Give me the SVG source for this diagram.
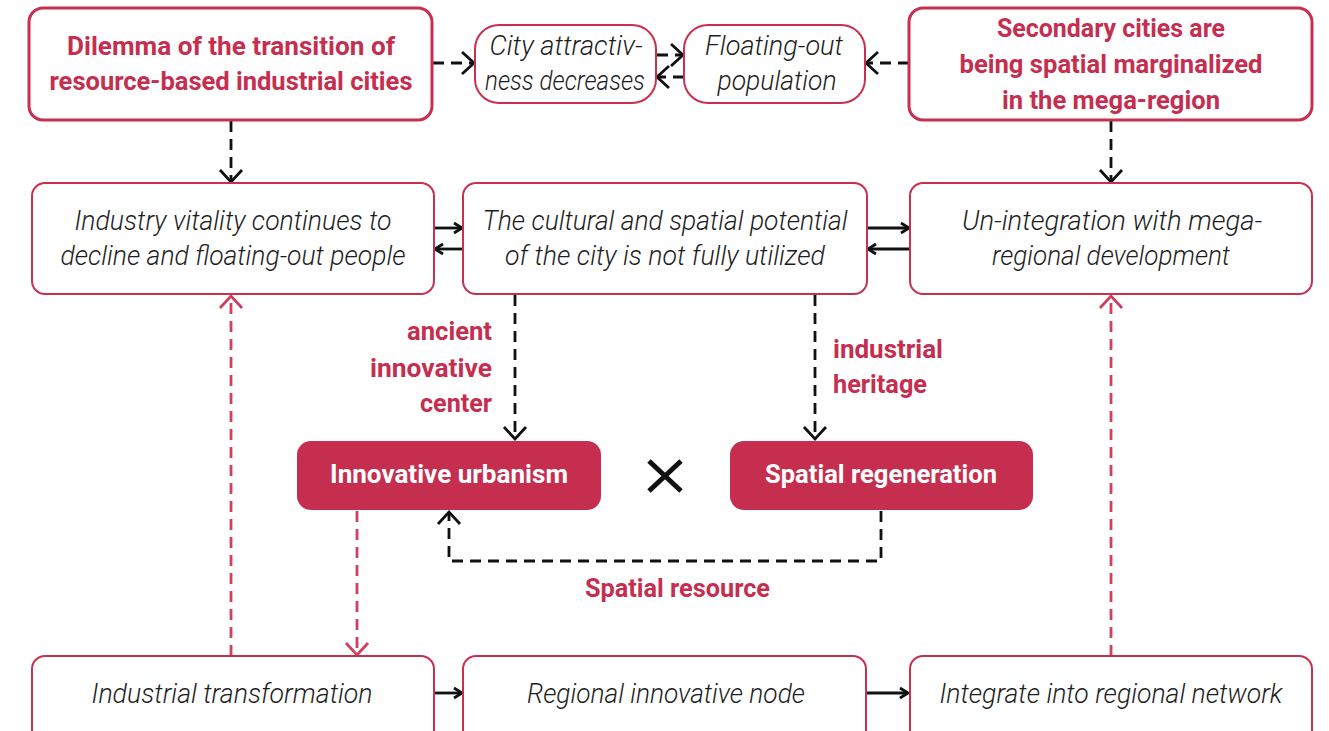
<svg xmlns="http://www.w3.org/2000/svg" width="1329" height="731" viewBox="0 0 1329 731">
<style>
.box{fill:#fff;stroke:#c8304f;stroke-width:2}
.boxb{fill:#fff;stroke:#c8304f;stroke-width:3}
.fill{fill:#c62e4f;stroke:none}
.t{font-family:Roboto,"Liberation Sans",sans-serif;font-style:italic;font-weight:300;font-size:27px;fill:#1e1e1e;text-anchor:middle}
.h{font-family:Roboto,"Liberation Sans",sans-serif;font-weight:700;font-size:26px;fill:#c62e4f;text-anchor:middle}
.w{font-family:Roboto,"Liberation Sans",sans-serif;font-weight:700;font-size:26px;fill:#fff;text-anchor:middle}
.lbl{font-family:Roboto,"Liberation Sans",sans-serif;font-weight:700;font-size:26px;fill:#c62e4f}
.dk{fill:none;stroke:#111;stroke-width:2.8;stroke-dasharray:11 7}
.dr{fill:none;stroke:#d0405f;stroke-width:2.8;stroke-dasharray:11 7}
.sk{fill:none;stroke:#111;stroke-width:2.8}
</style>
<defs>
<marker id="ak" markerUnits="userSpaceOnUse" viewBox="-16 -14 18 28" refX="0" refY="0" markerWidth="18" markerHeight="28" orient="auto" overflow="visible">
<path d="M-12,-11 L0,0 L-12,11" fill="none" stroke="#111" stroke-width="2.8"/>
</marker>
<marker id="ar" markerUnits="userSpaceOnUse" viewBox="-16 -14 18 28" refX="0" refY="0" markerWidth="18" markerHeight="28" orient="auto" overflow="visible">
<path d="M-12,-11 L0,0 L-12,11" fill="none" stroke="#d0405f" stroke-width="2.8"/>
</marker>
<marker id="as" markerUnits="userSpaceOnUse" viewBox="-10 -7 12 14" refX="0" refY="0" markerWidth="12" markerHeight="14" orient="auto" overflow="visible">
<path d="M-8,-5 L0,0 L-8,5" fill="none" stroke="#111" stroke-width="2.8"/>
</marker>
</defs>

<g id="connectors">
<line class="dk" x1="433" y1="63" x2="474" y2="63" marker-end="url(#ak)"/>
<line class="dk" x1="657" y1="55" x2="683" y2="55" marker-end="url(#ak)"/>
<line class="dk" x1="684" y1="77" x2="657" y2="77" marker-end="url(#ak)"/>
<line class="dk" x1="909" y1="63" x2="866" y2="63" marker-end="url(#ak)"/>
<line class="dk" x1="231" y1="121" x2="231" y2="182" marker-end="url(#ak)"/>
<line class="dk" x1="1111" y1="121" x2="1111" y2="182" marker-end="url(#ak)"/>
<line class="sk" x1="434" y1="228" x2="462" y2="228" marker-end="url(#as)"/>
<line class="sk" x1="463" y1="249" x2="435" y2="249" marker-end="url(#as)"/>
<line class="sk" x1="867" y1="228" x2="909" y2="228" marker-end="url(#as)"/>
<line class="sk" x1="910" y1="249" x2="868" y2="249" marker-end="url(#as)"/>
<line class="dk" x1="515" y1="295" x2="515" y2="439" marker-end="url(#ak)"/>
<line class="dk" x1="815" y1="295" x2="815" y2="439" marker-end="url(#ak)"/>
<polyline class="dk" points="881,511 881,561 449,561 449,512" marker-end="url(#ak)"/>
<line class="dr" x1="231" y1="656" x2="231" y2="296" marker-end="url(#ar)"/>
<line class="dr" x1="357" y1="511" x2="357" y2="655" marker-end="url(#ar)"/>
<line class="dr" x1="1111" y1="656" x2="1111" y2="296" marker-end="url(#ar)"/>
<line class="sk" x1="434" y1="693" x2="462" y2="693" marker-end="url(#as)"/>
<line class="sk" x1="866" y1="693" x2="908" y2="693" marker-end="url(#as)"/>
<text class="lbl" x="492" y="340" text-anchor="end" textLength="85" lengthAdjust="spacingAndGlyphs">ancient</text>
<text class="lbl" x="492" y="377" text-anchor="end" textLength="122" lengthAdjust="spacingAndGlyphs">innovative</text>
<text class="lbl" x="492" y="412" text-anchor="end" textLength="72" lengthAdjust="spacingAndGlyphs">center</text>
<text class="lbl" x="833" y="358" textLength="110" lengthAdjust="spacingAndGlyphs">industrial</text>
<text class="lbl" x="833" y="393" textLength="94" lengthAdjust="spacingAndGlyphs">heritage</text>
<text class="lbl" x="585" y="597" textLength="185" lengthAdjust="spacingAndGlyphs">Spatial resource</text>
</g>

<g id="dilemma">
<rect class="boxb" x="29" y="8" width="403" height="112" rx="14"/>
<text class="h" x="231" y="55" textLength="328" lengthAdjust="spacingAndGlyphs">Dilemma of the transition of</text>
<text class="h" x="231" y="90" textLength="363" lengthAdjust="spacingAndGlyphs">resource-based industrial cities</text>
</g>
<g id="attractiveness">
<rect class="box" x="475" y="25" width="181" height="78" rx="24"/>
<text class="t" x="566" y="55" textLength="153" lengthAdjust="spacingAndGlyphs">City attractiv-</text>
<text class="t" x="565" y="90" textLength="160" lengthAdjust="spacingAndGlyphs">ness decreases</text>
</g>
<g id="floating">
<rect class="box" x="684" y="25" width="181" height="78" rx="24"/>
<text class="t" x="774" y="55" textLength="138" lengthAdjust="spacingAndGlyphs">Floating-out</text>
<text class="t" x="777" y="90" textLength="119" lengthAdjust="spacingAndGlyphs">population</text>
</g>
<g id="secondary">
<rect class="boxb" x="909" y="8" width="403" height="112" rx="14"/>
<text class="h" x="1111" y="37" textLength="228" lengthAdjust="spacingAndGlyphs">Secondary cities are</text>
<text class="h" x="1111" y="73" textLength="303" lengthAdjust="spacingAndGlyphs">being spatial marginalized</text>
<text class="h" x="1111" y="109" textLength="218" lengthAdjust="spacingAndGlyphs">in the mega-region</text>
</g>
<g id="industry-vitality">
<rect class="box" x="32" y="183" width="402" height="111" rx="13"/>
<text class="t" x="233" y="230" textLength="317" lengthAdjust="spacingAndGlyphs">Industry vitality continues to</text>
<text class="t" x="233" y="265" textLength="345" lengthAdjust="spacingAndGlyphs">decline and floating-out people</text>
</g>
<g id="potential">
<rect class="box" x="463" y="183" width="404" height="111" rx="13"/>
<text class="t" x="665" y="230" textLength="365" lengthAdjust="spacingAndGlyphs">The cultural and spatial potential</text>
<text class="t" x="665" y="265" textLength="320" lengthAdjust="spacingAndGlyphs">of the city is not fully utilized</text>
</g>
<g id="un-integration">
<rect class="box" x="910" y="183" width="402" height="111" rx="13"/>
<text class="t" x="1112" y="230" textLength="300" lengthAdjust="spacingAndGlyphs">Un-integration with mega-</text>
<text class="t" x="1111" y="265" textLength="238" lengthAdjust="spacingAndGlyphs">regional development</text>
</g>
<g id="innovative-urbanism">
<rect class="fill" x="297" y="441" width="304" height="69" rx="14"/>
<text class="w" x="449" y="483" textLength="238" lengthAdjust="spacingAndGlyphs">Innovative urbanism</text>
</g>
<g id="times">
<path d="M649,461 L681,491 M681,461 L649,491" stroke="#111" stroke-width="5" fill="none"/>
</g>
<g id="spatial-regeneration">
<rect class="fill" x="730" y="441" width="303" height="69" rx="14"/>
<text class="w" x="881" y="483" textLength="232" lengthAdjust="spacingAndGlyphs">Spatial regeneration</text>
</g>
<g id="industrial-transformation">
<rect class="box" x="32" y="656" width="402" height="111" rx="13"/>
<text class="t" x="232" y="703" textLength="281" lengthAdjust="spacingAndGlyphs">Industrial transformation</text>
</g>
<g id="regional-node">
<rect class="box" x="463" y="656" width="403" height="111" rx="13"/>
<text class="t" x="666" y="703" textLength="278" lengthAdjust="spacingAndGlyphs">Regional innovative node</text>
</g>
<g id="regional-network">
<rect class="box" x="910" y="656" width="402" height="111" rx="13"/>
<text class="t" x="1111" y="703" textLength="343" lengthAdjust="spacingAndGlyphs">Integrate into regional network</text>
</g>
</svg>
